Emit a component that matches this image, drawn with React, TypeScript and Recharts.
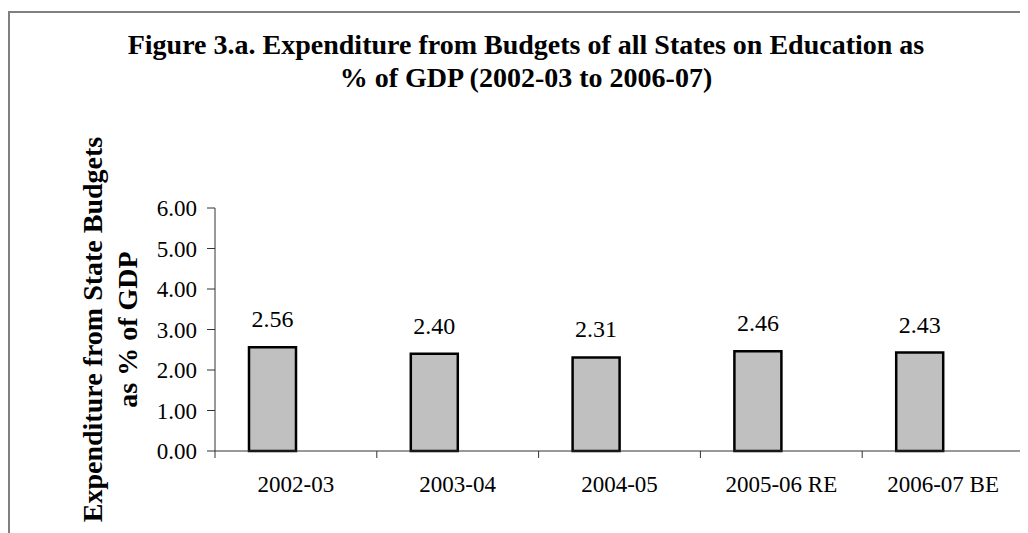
import React from 'react';
import { BarChart, Bar, XAxis, YAxis, LabelList } from 'recharts';

const years = ['2002-03', '2003-04', '2004-05', '2005-06 RE', '2006-07 BE'];
const shares = [2.56, 2.4, 2.31, 2.46, 2.43];
const yTicks = [0, 1, 2, 3, 4, 5, 6];

const data = years.map((year, i) => ({ year, share: shares[i] }));

const FONT = '"Liberation Serif", "Times New Roman", serif';
const PLOT_WIDTH = 809;

const YLabel = (props: any) => {
  const { viewBox } = props;
  const cy = viewBox.y + viewBox.height / 2;
  return (
    <g fontFamily={FONT} fontWeight="bold" fontSize={28} fill="#000" textAnchor="middle">
      <text transform={`translate(94, ${cy}) rotate(-90)`}>Expenditure from State Budgets</text>
      <text transform={`translate(129, ${cy}) rotate(-90)`}>as % of GDP</text>
    </g>
  );
};

// category labels sit in the middle, tick marks sit on the band edges (Excel style)
const YearTick = (props: any) => {
  const { x, y, payload, index } = props;
  const half = payload && payload.offset ? payload.offset : PLOT_WIDTH / years.length / 2;
  const last = index === years.length - 1;
  return (
    <g>
      <line x1={x - half} x2={x - half} y1={y} y2={y + 7} stroke="#333" />
      {last && <line x1={x + half} x2={x + half} y1={y} y2={y + 7} stroke="#333" />}
      <text x={x} y={y + 41} textAnchor="middle" fill="#000" fontSize={23} fontFamily={FONT}>
        {payload.value}
      </text>
    </g>
  );
};

export default function App() {
  return (
    <div style={{ position: 'relative', width: 1020, height: 525 }}>
      <div
        style={{
          position: 'absolute',
          left: 0,
          top: 3,
          width: 1020,
          height: 522,
          boxSizing: 'border-box',
          borderTop: '2px solid #808080',
          borderLeft: '2px solid #808080'
        }}
      />
      <div
        style={{
          position: 'absolute',
          left: 16,
          top: 20,
          width: 1004,
          textAlign: 'center',
          fontFamily: FONT,
          fontWeight: 'bold',
          fontSize: 28,
          lineHeight: '33px',
          color: '#000'
        }}
      >
        Figure 3.a. Expenditure from Budgets of all States on Education as
        <br />% of GDP (2002-03 to 2006-07)
      </div>
      <div style={{ position: 'absolute', left: 0, top: 0 }}>
        <BarChart
          width={1020}
          height={525}
          data={data}
          margin={{ top: 200, right: 4, bottom: 42, left: 0 }}
          barGap={0}
          barSize={47}
        >
          <XAxis
            dataKey="year"
            height={40}
            axisLine={{ stroke: '#333' }}
            tickLine={false}
            tickSize={0}
            tickMargin={0}
            interval={0}
            tick={<YearTick />}
          />
          <YAxis
            width={207}
            domain={[0, 6]}
            ticks={yTicks}
            tickFormatter={(v: number) => v.toFixed(2)}
            axisLine={{ stroke: '#333' }}
            tickLine={{ stroke: '#333' }}
            tickSize={8}
            tickMargin={10}
            tick={{ fill: '#000', fontSize: 23, fontFamily: FONT }}
            label={{ content: YLabel }}
          />
          <Bar dataKey="share" fill="#C0C0C0" stroke="#000" strokeWidth={2.5} isAnimationActive={false}>
            <LabelList
              dataKey="share"
              position="top"
              offset={20}
              formatter={(v: any) => Number(v).toFixed(2)}
              fill="#000"
              fontSize={24}
              fontFamily={FONT}
            />
          </Bar>
          <Bar dataKey="pad" fill="none" isAnimationActive={false} />
        </BarChart>
      </div>
    </div>
  );
}
